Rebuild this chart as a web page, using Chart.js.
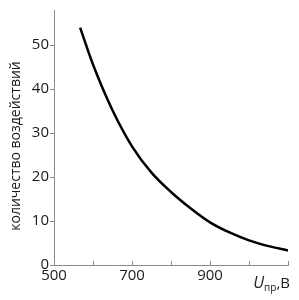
<!DOCTYPE html>
<html>
<head>
<meta charset="utf-8">
<script src="https://cdn.jsdelivr.net/npm/chart.js@4"></script>
<style>
html,body{margin:0;padding:0;background:#fff;}
#wrap{width:299px;height:300px;position:relative;}
</style>
</head>
<body>
<div id="wrap"><canvas id="c"></canvas></div>
<script>
const voltages = [567, 600, 650, 700, 750, 800, 850, 900, 950, 1000, 1050, 1100];
const counts   = [54, 45.6, 35.2, 27.0, 21.0, 16.6, 12.9, 9.7, 7.4, 5.6, 4.3, 3.3];
const xTickLabels = {500: '500', 700: '700', 900: '900'};
const yTitle = 'количество воздействий';
const xTitleMain = 'U';
const xTitleSub = 'пр';
const xTitleUnit = ',В';

const FONT = '"Open Sans", "DejaVu Sans", sans-serif';
const TEXT = '#1a1a1a';
const AXIS = '#8a8a8a';

const extras = {
  id: 'extras',
  afterDraw(chart) {
    const ctx = chart.ctx;
    const xs = chart.scales.x, ys = chart.scales.y;
    const bottom = ys.bottom;
    ctx.save();
    ctx.strokeStyle = AXIS;
    ctx.lineWidth = 1;
    xs.ticks.forEach(t => {
      const px = Math.round(xs.getPixelForValue(t.value)) + 0.5;
      ctx.beginPath();
      ctx.moveTo(px, bottom);
      ctx.lineTo(px, bottom - 4);
      ctx.stroke();
    });
    const right = xs.getPixelForValue(1100) + 2;
    const baseY = 288;
    ctx.fillStyle = TEXT;
    ctx.textBaseline = 'alphabetic';
    ctx.font = '15px ' + FONT;
    const unitW = ctx.measureText(xTitleUnit).width;
    ctx.font = '10px ' + FONT;
    const subW = ctx.measureText(xTitleSub).width;
    ctx.font = 'italic 16px ' + FONT;
    const mainW = ctx.measureText(xTitleMain).width;
    let x0 = right - unitW - subW - mainW;
    ctx.textAlign = 'left';
    ctx.fillText(xTitleMain, x0, baseY);
    ctx.font = '10px ' + FONT;
    ctx.fillText(xTitleSub, x0 + mainW, baseY + 3);
    ctx.font = '15px ' + FONT;
    ctx.fillText(xTitleUnit, x0 + mainW + subW, baseY);
    ctx.translate(16, 146);
    ctx.rotate(-Math.PI / 2);
    ctx.textAlign = 'center';
    ctx.textBaseline = 'middle';
    ctx.font = '14px ' + FONT;
    ctx.fillText(yTitle, 0, 0);
    ctx.restore();
  }
};

new Chart(document.getElementById('c'), {
  type: 'line',
  data: {
    datasets: [{
      data: voltages.map((v, i) => ({x: v, y: counts[i]})),
      borderColor: '#000',
      borderWidth: 2.5,
      pointRadius: 0,
      cubicInterpolationMode: 'monotone',
      fill: false
    }]
  },
  options: {
    responsive: true,
    maintainAspectRatio: false,
    animation: false,
    devicePixelRatio: 1,
    layout: {padding: {top: 9, right: 11, left: 0, bottom: 0}},
    plugins: {legend: {display: false}, tooltip: {enabled: false}},
    scales: {
      x: {
        type: 'linear',
        min: 500, max: 1100,
        ticks: {
          stepSize: 100,
          autoSkip: false,
          maxRotation: 0,
          color: TEXT,
          font: {family: FONT, size: 15},
          padding: 2,
          callback: v => xTickLabels[v] || ''
        },
        grid: {display: true, drawOnChartArea: false, drawTicks: false, color: AXIS},
        border: {color: AXIS, width: 1},
        afterFit: s => { s.height = 35; }
      },
      y: {
        type: 'linear',
        min: 0, max: 58,
        afterBuildTicks: s => { s.ticks = s.ticks.filter(t => t.value % 10 === 0); },
        ticks: {
          stepSize: 10,
          color: TEXT,
          font: {family: FONT, size: 15},
          padding: 1
        },
        grid: {display: true, drawOnChartArea: false, drawTicks: true, tickLength: 4, color: AXIS},
        border: {color: AXIS, width: 1},
        afterFit: s => { s.width = 54; }
      }
    }
  },
  plugins: [extras]
});
</script>
</body>
</html>
